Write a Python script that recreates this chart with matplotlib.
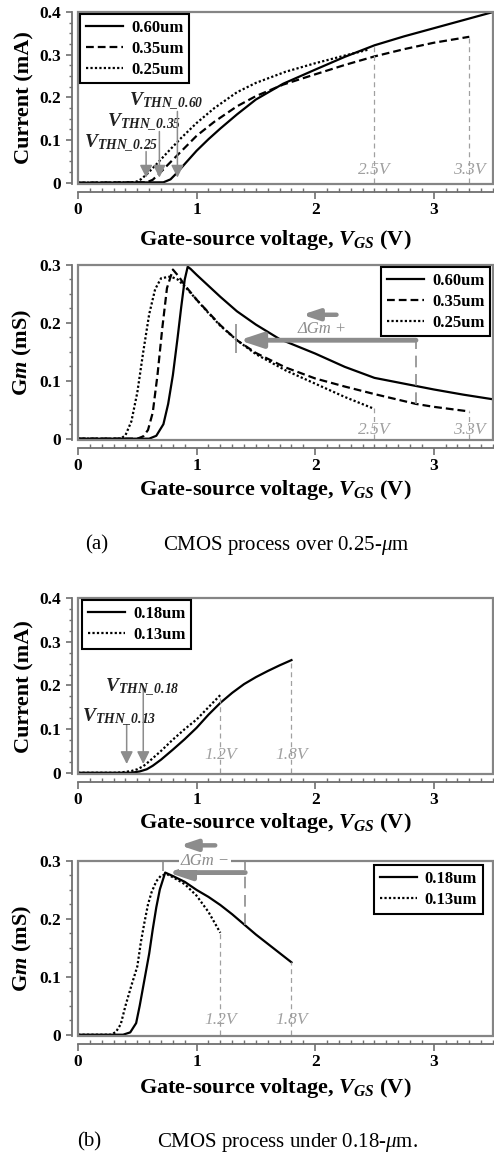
"""
Drain current and Gm of NMOS devices for several CMOS process nodes
"""

import numpy as np
import matplotlib
matplotlib.use('Agg')
import matplotlib.pyplot as plt
from matplotlib.ticker import MultipleLocator
from matplotlib.patches import Rectangle


# ---------------- (a) CMOS process over 0.25um : current ----------------
i_vgs_60 = [0, 0.72, 0.78, 0.83, 0.9, 1.0, 1.1, 1.2, 1.34, 1.5, 1.73, 2.0, 2.25, 2.5, 2.75, 3.0, 3.25, 3.5]
i_60 = [0, 0.001, 0.008, 0.022, 0.044, 0.075, 0.102, 0.127, 0.16, 0.195, 0.232, 0.265, 0.295, 0.322, 0.343, 0.362, 0.381, 0.4]

i_vgs_35 = [0, 0.58, 0.63, 0.68, 0.75, 0.85, 1.0, 1.15, 1.34, 1.5, 1.73, 2.0, 2.25, 2.5, 2.75, 3.0, 3.3]
i_35 = [0, 0.001, 0.007, 0.02, 0.04, 0.068, 0.11, 0.143, 0.179, 0.203, 0.23, 0.254, 0.276, 0.296, 0.313, 0.328, 0.342]

i_vgs_25 = [0, 0.48, 0.53, 0.58, 0.65, 0.75, 0.87, 1.0, 1.15, 1.34, 1.5, 1.75, 2.0, 2.25, 2.45]
i_25 = [0, 0.001, 0.008, 0.02, 0.04, 0.07, 0.105, 0.14, 0.175, 0.212, 0.234, 0.26, 0.28, 0.298, 0.312]

# threshold arrows: x, arrow top, label position
vth_a = [0.574, 0.686, 0.838]
vth_a_top = [0.073, 0.12, 0.167]
vth_a_names = ['0.25', '0.35', '0.60']
vth_a_text_xy = [(0.05, 0.09), (0.24, 0.14), (0.43, 0.19)]

# ---------------- (a) Gm ----------------
g_vgs_60 = [0, 0.6, 0.66, 0.72, 0.76, 0.80, 0.84, 0.87, 0.90, 0.925, 0.95, 1.0, 1.1, 1.2, 1.34, 1.5, 1.7, 2.0, 2.25, 2.5, 2.85, 3.0, 3.25, 3.5]
g_60 = [0, 0, 0.005, 0.025, 0.06, 0.11, 0.175, 0.227, 0.275, 0.297, 0.293, 0.283, 0.264, 0.245, 0.22, 0.197, 0.172, 0.147, 0.124, 0.105, 0.091, 0.085, 0.076, 0.068]

g_vgs_35 = [0, 0.5, 0.55, 0.59, 0.63, 0.67, 0.71, 0.75, 0.80, 0.85, 0.9, 1.0, 1.1, 1.2, 1.34, 1.5, 1.75, 2.0, 2.25, 2.5, 2.85, 3.0, 3.3]
g_35 = [0, 0, 0.004, 0.015, 0.045, 0.11, 0.19, 0.26, 0.292, 0.28, 0.265, 0.24, 0.218, 0.196, 0.17, 0.148, 0.123, 0.104, 0.09, 0.077, 0.06, 0.055, 0.047]

g_vgs_25 = [0, 0.36, 0.40, 0.45, 0.50, 0.55, 0.60, 0.65, 0.70, 0.78, 0.84, 0.9, 1.0, 1.1, 1.2, 1.34, 1.5, 1.75, 2.0, 2.25, 2.48]
g_25 = [0, 0, 0.006, 0.03, 0.08, 0.15, 0.215, 0.258, 0.277, 0.28, 0.275, 0.263, 0.24, 0.217, 0.195, 0.17, 0.146, 0.118, 0.095, 0.072, 0.053]

# ---------------- (b) CMOS process under 0.18um : current ----------------
i_vgs_18 = [0, 0.45, 0.52, 0.58, 0.63, 0.7, 0.8, 0.9, 1.0, 1.1, 1.2, 1.3, 1.4, 1.5, 1.6, 1.7, 1.8]
i_18 = [0, 0, 0.003, 0.008, 0.016, 0.03, 0.053, 0.077, 0.103, 0.133, 0.16, 0.183, 0.203, 0.219, 0.233, 0.246, 0.258]

i_vgs_13 = [0, 0.33, 0.4, 0.45, 0.5, 0.55, 0.6, 0.7, 0.8, 0.9, 1.0, 1.1, 1.2]
i_13 = [0, 0, 0.002, 0.004, 0.008, 0.015, 0.026, 0.05, 0.076, 0.1, 0.122, 0.15, 0.178]

vth_b = [0.41, 0.55]
vth_b_top = [0.11, 0.198]
vth_b_names = ['0.13', '0.18']
vth_b_text_xy = [(0.03, 0.125), (0.23, 0.195)]

# ---------------- (b) Gm ----------------
g_vgs_18 = [0, 0.38, 0.44, 0.49, 0.52, 0.56, 0.60, 0.63, 0.66, 0.69, 0.735, 0.8, 0.9, 1.0, 1.1, 1.2, 1.3, 1.42, 1.5, 1.6, 1.7, 1.8]
g_18 = [0, 0, 0.004, 0.02, 0.05, 0.095, 0.14, 0.182, 0.22, 0.251, 0.28, 0.274, 0.264, 0.25, 0.238, 0.224, 0.208, 0.187, 0.173, 0.157, 0.141, 0.125]

g_vgs_13 = [0, 0.28, 0.32, 0.36, 0.40, 0.45, 0.50, 0.53, 0.56, 0.59, 0.62, 0.66, 0.70, 0.75, 0.8, 0.9, 1.0, 1.1, 1.2]
g_13 = [0, 0, 0.005, 0.018, 0.05, 0.085, 0.118, 0.16, 0.194, 0.225, 0.246, 0.265, 0.275, 0.277, 0.272, 0.26, 0.24, 0.212, 0.176]

x_ticks = [0, 1, 2, 3]
x_tick_labels = ['0', '1', '2', '3']
i_ticks = [0, 0.1, 0.2, 0.3, 0.4]
i_tick_labels = ['0', '0.1', '0.2', '0.3', '0.4']
g_ticks = [0, 0.1, 0.2, 0.3]
g_tick_labels = ['0', '0.1', '0.2', '0.3']


GRAY = '#8c8c8c'
LIGHT = '#a0a0a0'
DASH = (0, (3.5, 1.8))
DOT = (0, (1, 1))
SERIF = 'Liberation Serif'

plt.rcParams['font.family'] = SERIF
plt.rcParams['mathtext.fontset'] = 'custom'
plt.rcParams['mathtext.rm'] = 'Liberation Serif'
plt.rcParams['mathtext.it'] = 'Liberation Serif:italic'
plt.rcParams['mathtext.bf'] = 'Liberation Serif:bold'
plt.rcParams['mathtext.bfit'] = 'Liberation Serif:italic:bold'

fig = plt.figure(figsize=(4.94, 11.56), dpi=100)

ax1 = fig.add_axes([0.158, 0.8408, 0.840, 0.1488])
ax2 = fig.add_axes([0.158, 0.6194, 0.840, 0.1514])
ax3 = fig.add_axes([0.158, 0.3304, 0.840, 0.1522])
ax4 = fig.add_axes([0.158, 0.1038, 0.840, 0.1514])

XLABEL = r'Gate-source voltage, $\mathbfit{V}_{\mathbfit{GS}}$ (V)'


def style(ax, ymax, yticks, ylabels, ylabel, xlab_y):
    ax.set_xlim(0, 3.5)
    ax.set_ylim(-0.003 * ymax / 0.4, ymax)
    ax.spines['top'].set_visible(False)
    ax.spines['right'].set_visible(False)
    ax.spines['left'].set_position(('outward', 4))
    ax.spines['bottom'].set_position(('outward', 6))
    for s in ['left', 'bottom']:
        ax.spines[s].set_color('#707070')
        ax.spines[s].set_linewidth(1.3)
    # gray frame round the plotting area
    ax.add_patch(Rectangle((0, 0), 1, 1, transform=ax.transAxes, fill=False,
                           ec='#858585', lw=1.6, clip_on=False, zorder=5))
    ax.set_xticks(x_ticks, x_tick_labels, fontweight='bold', fontsize=12.5)
    ax.set_yticks(yticks, ylabels, fontweight='bold', fontsize=12.5)
    ax.xaxis.set_minor_locator(MultipleLocator(0.1))
    ax.yaxis.set_minor_locator(MultipleLocator(0.025))
    ax.tick_params(axis='x', which='major', direction='out', length=5, width=1.2,
                   color='#707070', pad=2)
    ax.tick_params(axis='x', which='minor', direction='in', length=3, width=1, color='#707070')
    ax.tick_params(axis='y', which='major', direction='out', length=4, width=1.2,
                   color='#707070', pad=4)
    ax.tick_params(axis='y', which='minor', direction='out', length=2.5, width=1, color='#707070')
    ax.set_xlabel(XLABEL, fontsize=16, fontweight='bold')
    ax.xaxis.set_label_coords(0.475, xlab_y)
    ax.set_ylabel(ylabel, fontsize=16, fontweight='bold')
    ax.yaxis.set_label_coords(-0.105, 0.5)


def legend(ax, loc, anchor):
    leg = ax.legend(loc=loc, bbox_to_anchor=anchor, borderaxespad=0, fancybox=False,
                    framealpha=1, edgecolor='black', handlelength=2.2, handletextpad=0.5,
                    labelspacing=0.3, borderpad=0.35,
                    prop={'family': SERIF, 'weight': 'bold', 'size': 12})
    leg.get_frame().set_linewidth(1.5)
    leg.set_zorder(7)


def vth_label(ax, x, y, name):
    ax.text(x, y, r'$\mathbfit{V}_{\mathbfit{THN\_' + name + '}}$', fontsize=14,
            ha='left', va='center', color='#202020')


def small_arrow(ax, x, top, bottom=0.012):
    ax.annotate('', xy=(x, bottom), xytext=(x, top),
                arrowprops=dict(arrowstyle='-|>,head_length=0.5,head_width=0.25',
                                color=GRAY, lw=1.1, mutation_scale=15, shrinkA=0, shrinkB=0))


def volt_mark(ax, x, top, label, ly):
    ax.vlines(x, 0, top, colors=LIGHT, linestyles=(0, (4, 3)), lw=0.9)
    ax.text(x, ly, label, fontsize=12.5, style='italic', weight='normal',
            color=LIGHT, ha='center', va='center')


def big_arrow(ax, x0, x1, y, lw=3.5, scale=18, clip=True):
    ax.annotate('', xy=(x1, y), xytext=(x0, y), annotation_clip=clip,
                arrowprops=dict(arrowstyle='-|>,head_length=0.75,head_width=0.25',
                                color=GRAY, lw=lw, mutation_scale=scale, shrinkA=0, shrinkB=0))


# ---------------- panel 1 ----------------
ax1.plot(i_vgs_60, i_60, color='black', lw=1.6, label='0.60um')
ax1.plot(i_vgs_35, i_35, color='black', lw=1.6, ls=DASH, label='0.35um')
ax1.plot(i_vgs_25, i_25, color='black', lw=1.6, ls=DOT, label='0.25um')
style(ax1, 0.4, i_ticks, i_tick_labels, 'Current (mA)', -0.256)
legend(ax1, 'upper left', (0.005, 0.99))
for x, top, name, (tx, ty) in zip(vth_a, vth_a_top, vth_a_names, vth_a_text_xy):
    small_arrow(ax1, x, top)
    vth_label(ax1, tx, ty, name)
volt_mark(ax1, 2.5, np.interp(2.5, i_vgs_60, i_60), '2.5V', 0.03)
volt_mark(ax1, 3.3, i_35[-1], '3.3V', 0.03)

# ---------------- panel 2 ----------------
ax2.plot(g_vgs_60, g_60, color='black', lw=1.6, label='0.60um')
ax2.plot(g_vgs_35, g_35, color='black', lw=1.6, ls=DASH, label='0.35um')
ax2.plot(g_vgs_25, g_25, color='black', lw=1.6, ls=DOT, label='0.25um')
style(ax2, 0.3, g_ticks, g_tick_labels, r'G$\mathbfit{m}$ (mS)', -0.217)
legend(ax2, 'upper right', (0.993, 0.99))
volt_mark(ax2, 2.5, g_25[-1], '2.5V', 0.015)
volt_mark(ax2, 3.3, g_35[-1], '3.3V', 0.015)
ax2.vlines(2.85, np.interp(2.85, g_vgs_35, g_35), 0.17, colors=GRAY, linestyles=(0, (7, 4)), lw=1.2)
ax2.vlines(1.33, 0.148, 0.198, colors=GRAY, lw=1.2)
big_arrow(ax2, 2.85, 1.36, 0.17)
big_arrow(ax2, 2.18, 1.89, 0.214, lw=3.2, scale=13)
ax2.text(2.06, 0.19, '\u0394Gm +', fontsize=12, style='italic', weight='normal',
         color=GRAY, ha='center', va='center')

# caption (a)
fig.text(85 / 494, 1 - 545 / 1156, '(a)', fontsize=15, ha='left', va='center')
fig.text(163 / 494, 1 - 545 / 1156, r'CMOS process over 0.25-$\mathit{\mu}$m', fontsize=15,
         ha='left', va='center')

# ---------------- panel 3 ----------------
ax3.plot(i_vgs_18, i_18, color='black', lw=1.6, label='0.18um')
ax3.plot(i_vgs_13, i_13, color='black', lw=1.6, ls=DOT, label='0.13um')
style(ax3, 0.4, i_ticks, i_tick_labels, 'Current (mA)', -0.21)
legend(ax3, 'upper left', (0.01, 0.99))
for x, top, name, (tx, ty) in zip(vth_b, vth_b_top, vth_b_names, vth_b_text_xy):
    small_arrow(ax3, x, top, 0.02)
    vth_label(ax3, tx, ty, name)
volt_mark(ax3, 1.2, i_13[-1], '1.2V', 0.04)
volt_mark(ax3, 1.8, i_18[-1], '1.8V', 0.04)

# ---------------- panel 4 ----------------
ax4.plot(g_vgs_18, g_18, color='black', lw=1.6, label='0.18um')
ax4.plot(g_vgs_13, g_13, color='black', lw=1.6, ls=DOT, label='0.13um')
style(ax4, 0.3, g_ticks, g_tick_labels, r'G$\mathbfit{m}$ (mS)', -0.229)
legend(ax4, 'upper right', (0.976, 0.977))
volt_mark(ax4, 1.2, g_13[-1], '1.2V', 0.025)
volt_mark(ax4, 1.8, g_18[-1], '1.8V', 0.025)
ax4.vlines(1.41, np.interp(1.41, g_vgs_18, g_18), 0.3, colors=GRAY, linestyles=(0, (7, 4)), lw=1.2)
ax4.vlines(0.72, 0.283, 0.3, colors=GRAY, lw=1.2)
big_arrow(ax4, 1.41, 0.76, 0.28)
big_arrow(ax4, 1.157, 0.86, 0.327, lw=3.2, scale=13, clip=False)
ax4.text(1.07, 0.30, '\u0394Gm \u2212', fontsize=12, style='italic', weight='normal',
         color=GRAY, ha='center', va='center', zorder=8,
         bbox=dict(facecolor='white', edgecolor='none', pad=1))

# caption (b)
fig.text(77 / 494, 1 - 1142 / 1156, '(b)', fontsize=15, ha='left', va='center')
fig.text(157 / 494, 1 - 1142 / 1156, r'CMOS process under 0.18-$\mathit{\mu}$m.', fontsize=15,
         ha='left', va='center')

fig.savefig('out.png', dpi=100)
